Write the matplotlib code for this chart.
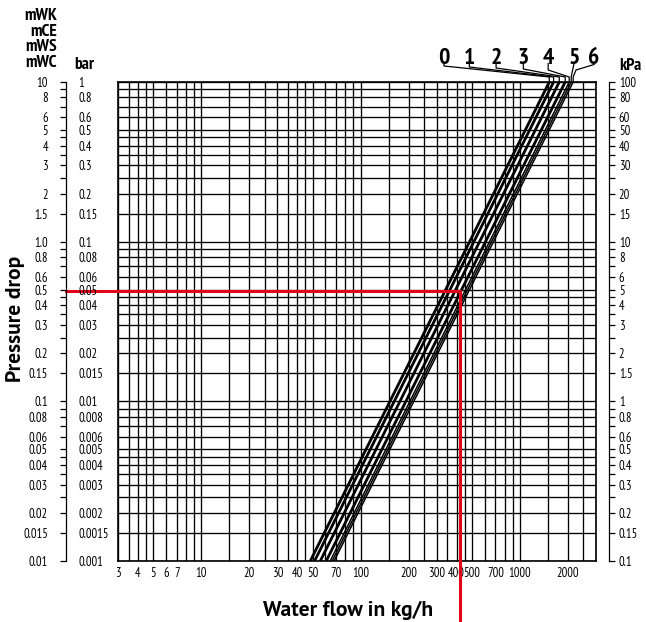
import matplotlib.pyplot as plt
from matplotlib.ticker import FixedLocator, NullFormatter
import numpy as np

plt.rcParams['font.family'] = ['PT Sans Narrow', 'Fira Sans Condensed', 'Roboto Condensed',
                               'Archivo Narrow', 'Liberation Sans Narrow', 'DejaVu Sans']
title_font = ['PT Sans', 'Open Sans', 'DejaVu Sans']

# flow in kg/h of each curve at 0.01 mWC (curves follow dp ~ q^2)
curve_names = ["0", "1", "2", "3", "4", "5", "6"]
flow_at_min = [48.3, 51.4, 55.8, 60.8, 64.4, 66.3, 68.2]

x_ticks = [3, 4, 5, 6, 7, 10, 20, 30, 40, 50, 70, 100, 200, 300, 400, 500, 700, 1000, 2000]
mwc_ticks = [10, 8, 6, 5, 4, 3, 2, 1.5, 1.0, 0.8, 0.6, 0.5, 0.4, 0.3, 0.2, 0.15,
             0.1, 0.08, 0.06, 0.05, 0.04, 0.03, 0.02, 0.015, 0.01]
mwc_labels = ["10", "8", "6", "5", "4", "3", "2", "1.5", "1.0", "0.8", "0.6", "0.5", "0.4",
              "0.3", "0.2", "0.15", "0.1", "0.08", "0.06", "0.05", "0.04", "0.03", "0.02",
              "0.015", "0.01"]
bar_labels = ["1", "0.8", "0.6", "0.5", "0.4", "0.3", "0.2", "0.15", "0.1", "0.08", "0.06",
              "0.05", "0.04", "0.03", "0.02", "0.015", "0.01", "0.008", "0.006", "0.005",
              "0.004", "0.003", "0.002", "0.0015", "0.001"]
kpa_labels = ["100", "80", "60", "50", "40", "30", "20", "15", "10", "8", "6", "5", "4", "3",
              "2", "1.5", "1", "0.8", "0.6", "0.5", "0.4", "0.3", "0.2", "0.15", "0.1"]
grid_steps = [1, 1.5, 2, 2.5, 3, 3.5, 4, 4.5, 5, 6, 7, 8, 9]

# selected operating point (red lines)
sel_flow = 420
sel_dp = 0.49

xmin, xmax = 3, 3000
ymin, ymax = 0.01, 10

W, H = 646, 622
fig = plt.figure(figsize=(W / 100, H / 100), dpi=100)


def fx(px):
    return px / W


def fy(py):
    return 1 - py / H


left, right, top, bottom = 118, 596, 82, 561
ax = fig.add_axes([fx(left), fy(bottom), (right - left) / W, (bottom - top) / H])
ax.set_xscale("log")
ax.set_yscale("log")
ax.set_xlim(xmin, xmax)
ax.set_ylim(ymin, ymax)

gx = [s * 10 ** d for d in range(0, 4) for s in grid_steps if xmin <= s * 10 ** d <= xmax]
gy = [s * 10 ** d for d in range(-2, 2) for s in grid_steps if ymin <= s * 10 ** d <= ymax]
for v in gx:
    ax.axvline(v, color="black", lw=0.95, zorder=1)
for v in gy:
    ax.axhline(v, color="black", lw=0.95, zorder=1)

ax.set_xticks(x_ticks, [str(t) for t in x_ticks])
ax.xaxis.set_minor_locator(FixedLocator([]))
ax.xaxis.set_minor_formatter(NullFormatter())
ax.set_yticks([])
ax.yaxis.set_minor_locator(FixedLocator([]))
ax.tick_params(axis="x", length=0, pad=4, labelsize=9)
for s in ax.spines.values():
    s.set_linewidth(1.2)

# curves
widths = [2.0, 2.0, 2.0, 2.0, 1.1, 1.1, 1.1]
p = np.array([ymin, ymax])
for q0, w in zip(flow_at_min, widths):
    q = q0 * np.sqrt(p / ymin)
    ax.plot(q, p, color="black", lw=w, solid_capstyle="butt", zorder=3)

# leader lines to the curve names
def ay(py):
    return 1 + (top - py) / (bottom - top)


lab_x = [0.682, 0.735, 0.791, 0.848, 0.900, 0.954, 0.996]
kink_y = [ay(66), ay(67), ay(68), ay(69), ay(70)]
lx_span = np.log10(xmax / xmin)
for i, (name, q0) in enumerate(zip(curve_names, flow_at_min)):
    q_top = q0 * np.sqrt(ymax / ymin)
    ex = np.log10(q_top / xmin) / lx_span
    if i < 5:
        xs = [lab_x[i], lab_x[i], ex, ex]
        ys = [ay(63.5), kink_y[i], ay(77), 1.0]
    elif i == 5:
        xs = [lab_x[i], ex, ex]
        ys = [ay(63.5), ay(77), 1.0]
    else:
        xs = [lab_x[i], ex + 0.006, ex, ex]
        ys = [ay(64.5), ay(70), ay(77), 1.0]
    ax.plot(xs, ys, transform=ax.transAxes, color="black", lw=0.9, clip_on=False, zorder=3)
    ax.text(lab_x[i], ay(63.5), name, transform=ax.transAxes, ha="center", va="baseline",
            fontsize=17, fontweight="bold")

# red operating point lines
red = "#e2001a"
ly_span = np.log10(ymax / ymin)
x_far_left = xmin * 10 ** (lx_span * (66 - left) / (right - left))
y_far_low = ymin * 10 ** (-ly_span * (620 - bottom) / (bottom - top))
ax.plot([x_far_left, sel_flow], [sel_dp, sel_dp], color=red, lw=2.2, clip_on=False, zorder=4)
ax.plot([sel_flow, sel_flow], [sel_dp, y_far_low], color=red, lw=2.2, clip_on=False, zorder=4)

# left scale: mWC / bar
axl = fig.add_axes([fx(66), fy(bottom), 0.0001, (bottom - top) / H])
axl.set_yscale("log")
axl.set_ylim(ymin, ymax)
axl.set_xticks([])
for k in ["right", "top", "bottom"]:
    axl.spines[k].set_visible(False)
axl.spines["left"].set_linewidth(0.9)
axl.set_yticks(mwc_ticks, mwc_labels)
axl.yaxis.set_minor_locator(FixedLocator(gy))
axl.yaxis.set_minor_formatter(NullFormatter())
axl.tick_params(axis="y", which="both", direction="out", length=4, width=0.9,
                labelsize=9, pad=9)
axl.patch.set_visible(False)

axb = axl.twinx()
axb.set_yscale("log")
axb.set_ylim(ymin, ymax)
axb.set_yticks(mwc_ticks, bar_labels)
axb.yaxis.set_minor_locator(FixedLocator([]))
axb.yaxis.set_minor_formatter(NullFormatter())
axb.tick_params(axis="y", length=0, labelsize=9, pad=9)
for s in axb.spines.values():
    s.set_visible(False)

# right scale: kPa
axr = fig.add_axes([fx(609), fy(bottom), 0.0001, (bottom - top) / H])
axr.set_yscale("log")
axr.set_ylim(ymin, ymax)
axr.set_xticks([])
for k in ["left", "top", "bottom"]:
    axr.spines[k].set_visible(False)
axr.spines["right"].set_linewidth(0.9)
axr.yaxis.tick_right()
axr.set_yticks(mwc_ticks, kpa_labels)
axr.yaxis.set_minor_locator(FixedLocator(gy))
axr.yaxis.set_minor_formatter(NullFormatter())
axr.tick_params(axis="y", which="both", direction="out", length=4, width=0.9,
                labelsize=9, pad=3)
axr.patch.set_visible(False)

# headings
for txt, py in zip(["mWK", "mCE", "mWS", "mWC"], [20, 35.5, 51, 67]):
    fig.text(fx(57), fy(py), txt, ha="right", va="baseline", fontsize=12.5, fontweight="bold")
fig.text(fx(74), fy(69), "bar", ha="left", va="baseline", fontsize=12.5, fontweight="bold")
fig.text(fx(619), fy(69.5), "kPa", ha="left", va="baseline", fontsize=12.5, fontweight="bold")
fig.text(fx(16), fy(319), "Pressure drop", rotation=90, ha="center", va="center",
         fontsize=15.5, fontweight="bold", family=title_font)
fig.text(fx(348), fy(616), "Water flow in kg/h", ha="center", va="baseline",
         fontsize=15.5, fontweight="bold", family=title_font)

fig.savefig("out.png", dpi=100)
